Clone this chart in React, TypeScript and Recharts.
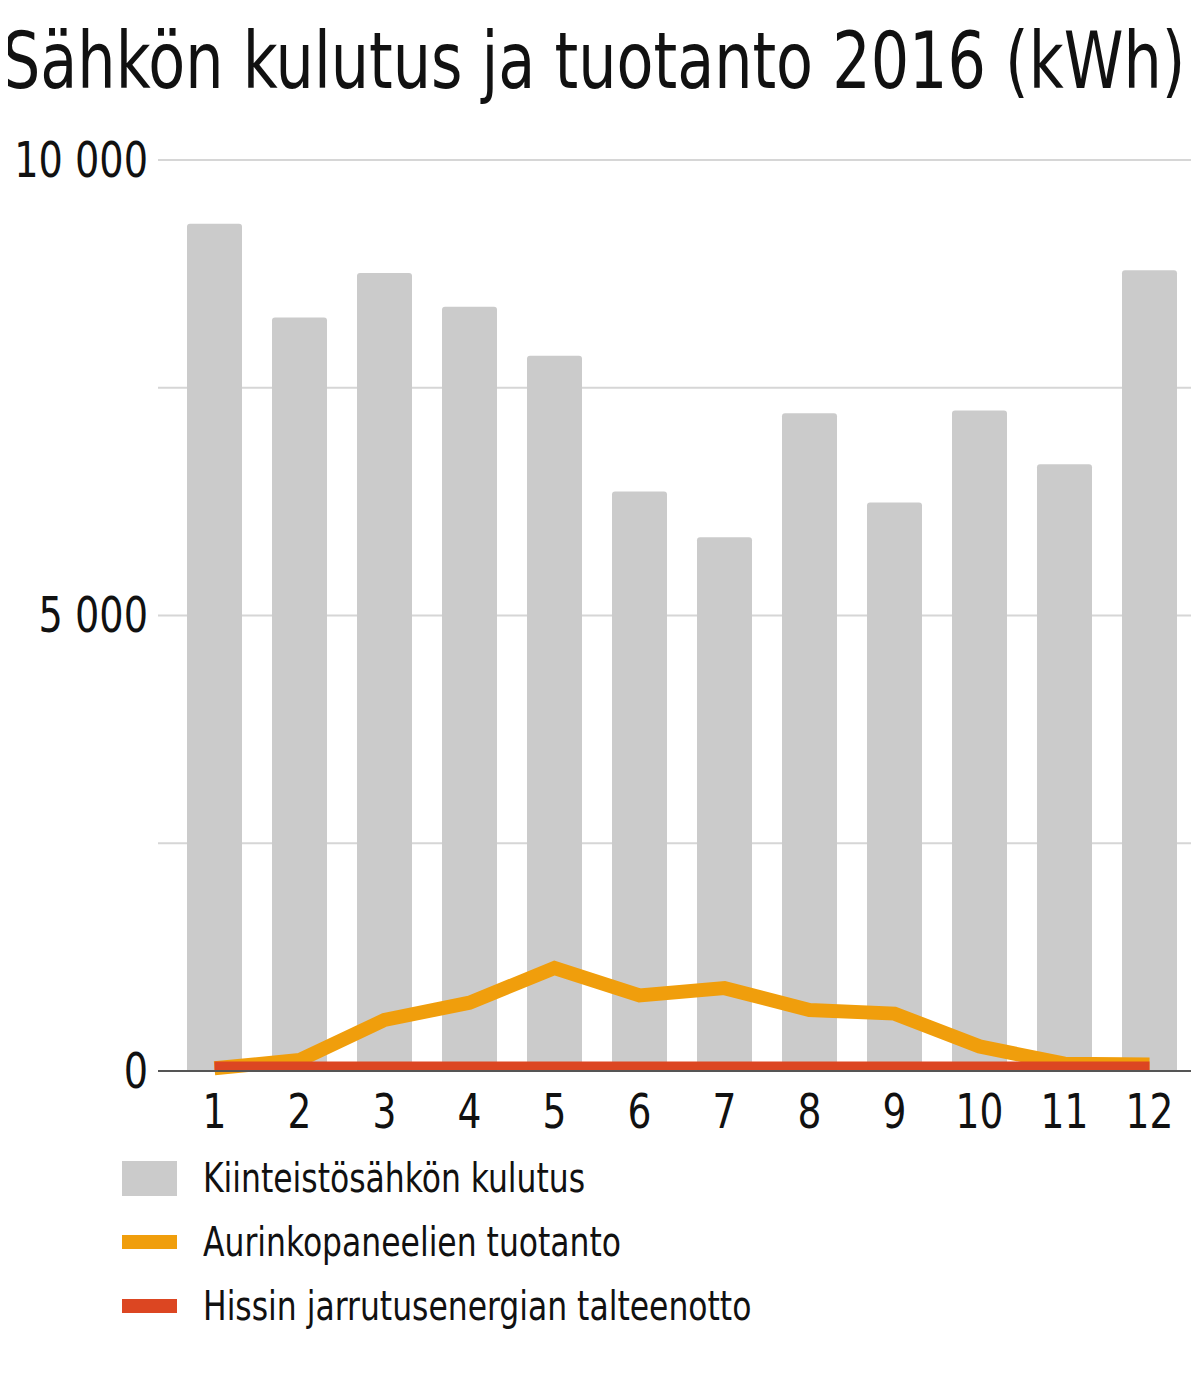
import { ComposedChart, Bar, Line, XAxis, YAxis, CartesianGrid } from "recharts"

const months = ["1", "2", "3", "4", "5", "6", "7", "8", "9", "10", "11", "12"]
const kulutus = [9300, 8270, 8760, 8390, 7850, 6360, 5860, 7220, 6240, 7250, 6660, 8790]
const aurinko = [30, 120, 560, 750, 1130, 830, 910, 670, 630, 270, 80, 70]
const hissi = [50, 50, 50, 50, 50, 50, 50, 50, 50, 50, 50, 50]
const yTicks = [0, 2500, 5000, 7500, 10000]
const yLabels = [0, 5000, 10000]

const FONT = "'DejaVu Sans Condensed', 'DejaVu Sans', sans-serif"

const series = [
  { name: "Kiinteistösähkön kulutus", color: "#cbcbcb", h: 35 },
  { name: "Aurinkopaneelien tuotanto", color: "#f09e0c", h: 14 },
  { name: "Hissin jarrutusenergian talteenotto", color: "#dc4622", h: 14 },
]

const chartData = months.map((m, i) => ({
  kk: m,
  kulutus: kulutus[i],
  aurinko: aurinko[i],
  hissi: hissi[i],
}))

const fmt = (v: number) =>
  yLabels.includes(v) ? String(v).replace(/\B(?=(\d{3})+(?!\d))/g, " ") : ""

// DejaVu Condensed is still wider than the original face, so squeeze it a bit
const XTick = (props: any) => {
  const { x, y, payload } = props
  return (
    <text
      transform={`translate(${x},${y}) scale(0.87,1)`}
      textAnchor="middle"
      dy="0.73em"
      fontSize={48}
      fontFamily={FONT}
      fill="#111"
    >
      {payload.value}
    </text>
  )
}

const YTick = (props: any) => {
  const { x, y, payload } = props
  const label = fmt(payload.value)
  if (!label) return null
  return (
    <text
      transform={`translate(${x},${y}) scale(0.85,1)`}
      textAnchor="end"
      dy="0.33em"
      fontSize={50}
      fontFamily={FONT}
      fill="#111"
    >
      {label}
    </text>
  )
}

export default function App() {
  return (
    <div
      style={{
        position: "relative",
        width: 1199,
        height: 1370,
        margin: -8,
        background: "#fff",
        fontFamily: FONT,
        color: "#111",
        overflow: "hidden",
      }}
    >
      <svg width={1199} height={120} style={{ position: "absolute", top: 0, left: 0 }}>
        <text
          transform="translate(2,88) scale(0.861,1)"
          fontSize={78}
          fontFamily={FONT}
          fill="#111"
        >
          Sähkön kulutus ja tuotanto 2016 (kWh)
        </text>
      </svg>

      <div style={{ position: "absolute", top: 0, left: 0 }}>
        <ComposedChart
          width={1199}
          height={1140}
          data={chartData}
          margin={{ top: 160, right: 0, bottom: 0, left: 0 }}
          barSize={55}
        >
          <CartesianGrid vertical={false} stroke="#d6d6d6" strokeWidth={2} />
          <XAxis
            dataKey="kk"
            height={69}
            padding={{ left: 14, right: 7 }}
            axisLine={{ stroke: "#555", strokeWidth: 2 }}
            tickLine={false}
            tickSize={0}
            tickMargin={22}
            tick={<XTick />}
            interval={0}
          />
          <YAxis
            width={158}
            domain={[0, 10000]}
            ticks={yTicks}
            axisLine={false}
            tickLine={false}
            tickSize={0}
            tickMargin={10}
            tick={<YTick />}
          />
          <Bar
            dataKey="kulutus"
            fill="#cbcbcb"
            radius={[3, 3, 0, 0]}
            isAnimationActive={false}
          />
          <Line
            dataKey="aurinko"
            stroke="#f09e0c"
            strokeWidth={14}
            dot={false}
            type="linear"
            isAnimationActive={false}
          />
          <Line
            dataKey="hissi"
            stroke="#dc4622"
            strokeWidth={10}
            dot={false}
            type="linear"
            isAnimationActive={false}
          />
        </ComposedChart>
      </div>

      {series.map((s, i) => (
        <div
          key={s.name}
          style={{
            position: "absolute",
            top: 1158 + i * 64,
            left: 122,
            height: 40,
            display: "flex",
            alignItems: "center",
          }}
        >
          <div style={{ width: 55, height: s.h, background: s.color, marginRight: 26 }} />
          <span
            style={{
              display: "inline-block",
              fontSize: 40,
              lineHeight: 1,
              whiteSpace: "nowrap",
              transform: "scaleX(0.873)",
              transformOrigin: "left center",
            }}
          >
            {s.name}
          </span>
        </div>
      ))}
    </div>
  )
}
